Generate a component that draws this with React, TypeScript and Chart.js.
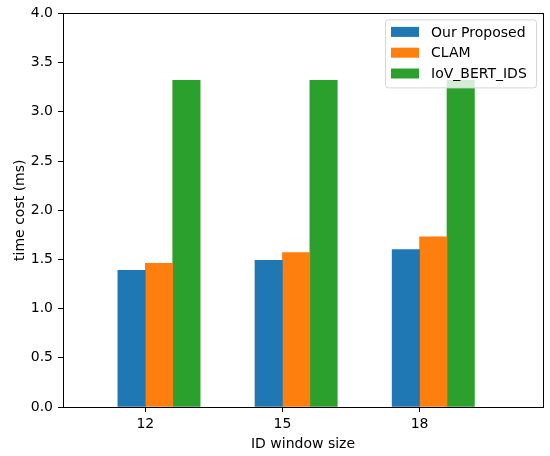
import React, { useEffect, useRef } from 'react';
import { Chart, registerables } from 'chart.js';

Chart.register(...registerables);

// chart data
const windowSizes = ['12', '15', '18'];
const seriesNames = ['Our Proposed', 'CLAM', 'IoV_BERT_IDS'];
const ourProposed = [1.39, 1.49, 1.6];
const clam = [1.46, 1.57, 1.73];
const iovBertIds = [3.32, 3.32, 3.32];
const yTicks = [0, 0.5, 1, 1.5, 2, 2.5, 3, 3.5, 4];

const colors = ['#1f77b4', '#ff7f0e', '#2ca02c'];
const barWidth = 0.2;
const FONT = 'DejaVu Sans';
const FS = 14;

// matplotlib style frame around the plot area
const framePlugin = {
  id: 'frame',
  afterDatasetsDraw(chart: Chart) {
    const { ctx, chartArea } = chart;
    ctx.save();
    ctx.strokeStyle = '#000';
    ctx.lineWidth = 1;
    ctx.strokeRect(
      Math.round(chartArea.left) + 0.5,
      Math.round(chartArea.top) + 0.5,
      Math.round(chartArea.right - chartArea.left),
      Math.round(chartArea.bottom - chartArea.top)
    );
    ctx.restore();
  },
};

// legend box in the upper right corner, like plt.legend()
const legendPlugin = {
  id: 'boxLegend',
  afterDraw(chart: Chart) {
    const { ctx, chartArea } = chart;
    const w = 151;
    const h = 68;
    const x = chartArea.right - 7 - w;
    const y = chartArea.top + 6;
    ctx.save();
    ctx.beginPath();
    ctx.roundRect(x + 0.5, y + 0.5, w, h, 3);
    ctx.fillStyle = 'rgba(255,255,255,0.8)';
    ctx.fill();
    ctx.strokeStyle = '#d6d6d6';
    ctx.lineWidth = 1;
    ctx.stroke();
    ctx.font = `${FS}px "${FONT}"`;
    ctx.textBaseline = 'middle';
    chart.data.datasets.forEach((ds, i) => {
      const cy = y + 12.5 + i * 20.8;
      ctx.fillStyle = ds.backgroundColor as string;
      ctx.fillRect(x + 6, cy - 5, 28, 10);
      ctx.fillStyle = '#000';
      ctx.fillText(ds.label as string, x + 46, cy + 1);
    });
    ctx.restore();
  },
};

const App: React.FC = () => {
  const canvasRef = useRef<HTMLCanvasElement>(null);
  const chartRef = useRef<Chart | null>(null);

  useEffect(() => {
    document.body.style.margin = '0';
    if (!canvasRef.current) return;
    if (chartRef.current) chartRef.current.destroy();

    const series = [ourProposed, clam, iovBertIds];
    const datasets = series.map((values, k) => ({
      label: seriesNames[k],
      data: values.map((v, i) => ({ x: i + barWidth * (k - 0.5), y: v })),
      backgroundColor: colors[k],
      borderWidth: 0,
      grouped: false,
      barPercentage: 1,
      categoryPercentage: 1,
    }));

    chartRef.current = new Chart(canvasRef.current, {
      type: 'bar',
      data: { datasets },
      plugins: [framePlugin, legendPlugin],
      options: {
        animation: false,
        responsive: true,
        maintainAspectRatio: false,
        layout: { padding: { top: 11, right: 7, left: 0, bottom: 0 } },
        plugins: {
          legend: { display: false },
          tooltip: { enabled: false },
        },
        scales: {
          x: {
            type: 'linear',
            min: -0.6,
            max: 2.9,
            offset: false,
            afterBuildTicks: (scale: any) => {
              scale.ticks = windowSizes.map((_, i) => ({ value: i }));
            },
            afterFit: (scale: any) => {
              scale.height = 49;
            },
            grid: {
              offset: false,
              drawOnChartArea: false,
              drawTicks: true,
              tickLength: 5,
              tickColor: '#000',
            },
            border: { display: true, color: '#000', width: 1 },
            ticks: {
              color: '#000',
              padding: 4,
              font: { family: FONT, size: FS },
              maxRotation: 0,
              callback: (v: any) => windowSizes[Math.round(Number(v))] ?? '',
            },
            title: {
              display: true,
              text: 'ID window size',
              color: '#000',
              font: { family: FONT, size: FS },
              padding: { top: 0, bottom: 3 },
            },
          },
          y: {
            min: 0,
            max: 4,
            afterBuildTicks: (scale: any) => {
              scale.ticks = yTicks.map((v) => ({ value: v }));
            },
            afterFit: (scale: any) => {
              scale.width = 63;
            },
            grid: {
              drawOnChartArea: false,
              drawTicks: true,
              tickLength: 5,
              tickColor: '#000',
            },
            border: { display: true, color: '#000', width: 1 },
            ticks: {
              color: '#000',
              padding: 5,
              font: { family: FONT, size: FS },
              callback: (v: any) => Number(v).toFixed(1),
            },
            title: {
              display: true,
              text: 'time cost (ms)',
              color: '#000',
              font: { family: FONT, size: FS },
              padding: { top: 12, bottom: 0 },
            },
          },
        },
      },
    });

    return () => {
      if (chartRef.current) {
        chartRef.current.destroy();
        chartRef.current = null;
      }
    };
  }, []);

  return (
    <div style={{ position: 'fixed', left: 0, top: 0, width: 550, height: 456, background: '#fff' }}>
      <canvas ref={canvasRef}></canvas>
    </div>
  );
};

export default App;
